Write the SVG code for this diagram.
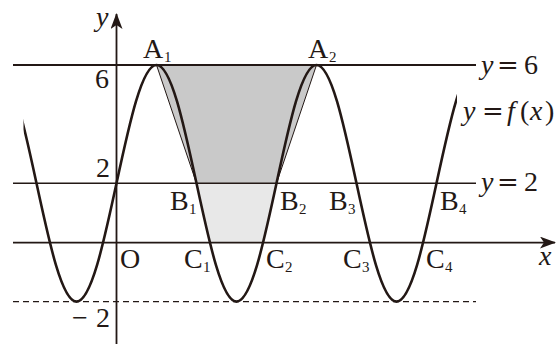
<svg xmlns="http://www.w3.org/2000/svg" width="557" height="344" viewBox="0 0 557 344">
<style>
.ln{stroke:#231815;fill:none}
.t{font-family:"Liberation Serif","Times New Roman",serif;font-size:28px;fill:#231815}
.i{font-style:italic}
.s{font-size:15px}
.eq{font-family:"DejaVu Serif",serif;font-size:26px}
</style>
<defs>
<marker id="ah" viewBox="0 0 16 12" refX="15" refY="6" markerWidth="16" markerHeight="12" markerUnits="userSpaceOnUse" orient="auto">
<path d="M0,0 L16,6 L0,12 L4,6 Z" fill="#231815"/>
</marker>
<clipPath id="cc"><rect x="23.5" y="0" width="433.5" height="344"/></clipPath>
</defs>
<rect width="557" height="344" fill="#fff"/>
<g id="shading">
<polygon points="156.5,65 316.5,65 276.5,183.3 196.5,183.3" fill="#c9c9c9"/>
<polygon points="196.5,183.3 199.5,197.2 202.5,210.9 205.5,224.2 208.5,237 209.83,242.45 263.17,242.45 264.5,237 267.5,224.2 270.5,210.9 273.5,197.2 276.5,183.3" fill="#e8e8e8"/>
</g>
<g id="connectors">
<line class="ln" x1="13" y1="65" x2="476" y2="65" stroke-width="1.8"/>
<line class="ln" x1="13" y1="183.3" x2="476" y2="183.3" stroke-width="1.5"/>
<line class="ln" x1="13" y1="301.6" x2="476" y2="301.6" stroke-width="1.3" stroke-dasharray="6,4"/>
<line class="ln" x1="13" y1="242.6" x2="555" y2="242.6" stroke-width="1.8" marker-end="url(#ah)"/>
<line class="ln" x1="116.5" y1="344" x2="116.5" y2="14" stroke-width="1.8" marker-end="url(#ah)"/>
<line class="ln" x1="156.5" y1="65" x2="196.5" y2="183.3" stroke-width="1"/>
<line class="ln" x1="316.5" y1="65" x2="276.5" y2="183.3" stroke-width="1"/>
</g>
<g id="curve">
<path class="ln" stroke-width="2.6" clip-path="url(#cc)" d="M-3.5,65 C10.976,65 23.455,122.69 36.5,183.3 C49.545,243.91 62.024,301.6 76.5,301.6 C90.976,301.6 103.455,243.91 116.5,183.3 C129.545,122.69 142.024,65 156.5,65 C170.976,65 183.455,122.69 196.5,183.3 C209.545,243.91 222.024,301.6 236.5,301.6 C250.976,301.6 263.455,243.91 276.5,183.3 C289.545,122.69 302.024,65 316.5,65 C330.976,65 343.455,122.69 356.5,183.3 C369.545,243.91 382.024,301.6 396.5,301.6 C410.976,301.6 423.455,243.91 436.5,183.3 C449.545,122.69 462.024,65 476.5,65"/>
</g>
<g id="labels">
<text class="t i" x="96" y="26">y</text>
<text class="t" x="539" y="265"><tspan class="i">x</tspan></text>
<text class="t" x="120" y="268">O</text>
<text class="t" x="95" y="88">6</text>
<text class="t" x="96" y="177">2</text>
<text class="t" x="72" y="327">−</text>
<text class="t" x="96" y="327">2</text>
</g>
<g id="A1"><text class="t" x="143" y="58">A</text><text class="t s" x="164" y="62">1</text></g>
<g id="A2"><text class="t" x="308" y="58">A</text><text class="t s" x="329" y="62">2</text></g>
<g id="B1"><text class="t" x="170" y="210">B</text><text class="t s" x="189" y="214">1</text></g>
<g id="B2"><text class="t" x="280" y="210">B</text><text class="t s" x="299" y="214">2</text></g>
<g id="B3"><text class="t" x="329" y="210">B</text><text class="t s" x="348" y="214">3</text></g>
<g id="B4"><text class="t" x="440" y="210">B</text><text class="t s" x="459" y="214">4</text></g>
<g id="C1"><text class="t" x="184" y="268">C</text><text class="t s" x="203" y="272">1</text></g>
<g id="C2"><text class="t" x="266" y="268">C</text><text class="t s" x="285" y="272">2</text></g>
<g id="C3"><text class="t" x="343" y="268">C</text><text class="t s" x="362" y="272">3</text></g>
<g id="C4"><text class="t" x="426" y="268">C</text><text class="t s" x="445" y="272">4</text></g>
<g id="eq6"><text class="t i" x="481" y="74">y</text><text class="t eq" x="497" y="74">=</text><text class="t" x="524" y="74">6</text></g>
<g id="eq2"><text class="t i" x="481" y="191">y</text><text class="t eq" x="497" y="191">=</text><text class="t" x="524" y="191">2</text></g>
<g id="eqf"><text class="t i" x="463" y="120">y</text><text class="t eq" x="482" y="120">=</text><text class="t i" x="507" y="120">f</text><text class="t" x="520" y="120">(</text><text class="t i" x="530" y="120">x</text><text class="t" x="545" y="120">)</text></g>
</svg>
